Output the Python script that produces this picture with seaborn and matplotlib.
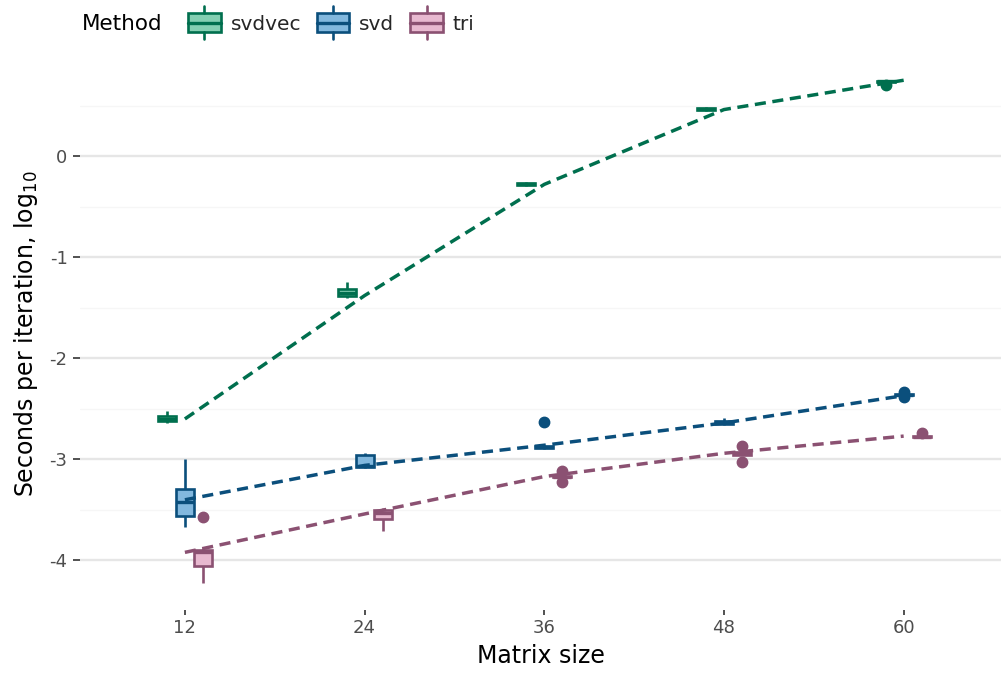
import numpy as np
import pandas as pd
import matplotlib
matplotlib.use("Agg")
import matplotlib.pyplot as plt
import seaborn as sns
from matplotlib.legend_handler import HandlerBase
from matplotlib.patches import Rectangle
from matplotlib.lines import Line2D
import matplotlib.colors as mcolors

# ---------------- data ----------------
methods = ["svdvec", "svd", "tri"]
sizes = [12, 24, 36, 48, 60]

# observed log10 seconds per iteration, per matrix size
svdvec_obs = {
    12: [-2.64, -2.63, -2.61, -2.60, -2.58, -2.565, -2.52],
    24: [-1.40, -1.39, -1.37, -1.35, -1.32, -1.31, -1.25],
    36: [-0.30, -0.29, -0.28, -0.27, -0.26, -0.255],
    48: [0.445, 0.45, 0.465, 0.47, 0.48, 0.485],
    60: [0.70, 0.735, 0.737, 0.742, 0.748, 0.75],
}
svd_obs = {
    12: [-3.67, -3.57, -3.55, -3.42, -3.30, -3.28, -3.0],
    24: [-3.09, -3.08, -3.075, -3.07, -2.97, -2.95, -2.94],
    36: [-2.90, -2.89, -2.885, -2.88, -2.875, -2.87, -2.63],
    48: [-2.66, -2.655, -2.64, -2.635, -2.625, -2.62, -2.59],
    60: [-2.385, -2.365, -2.362, -2.358, -2.354, -2.33],
}
tri_obs = {
    12: [-4.22, -4.08, -4.05, -3.93, -3.91, -3.90, -3.88, -3.57],
    24: [-3.71, -3.60, -3.58, -3.53, -3.51, -3.49, -3.48],
    36: [-3.22, -3.18, -3.175, -3.165, -3.16, -3.12],
    48: [-3.03, -2.955, -2.95, -2.94, -2.93, -2.925, -2.87],
    60: [-2.79, -2.785, -2.78, -2.775, -2.77, -2.74],
}

# trend values drawn as dashed lines
svdvec_line = [-2.60, -1.38, -0.28, 0.46, 0.75]
svd_line = [-3.40, -3.06, -2.86, -2.64, -2.37]
tri_line = [-3.92, -3.54, -3.17, -2.94, -2.77]

y_ticks = [0, -1, -2, -3, -4]
x_ticks = [12, 24, 36, 48, 60]

# ---------------- styling ----------------
line_colors = {"svdvec": "#006F4E", "svd": "#0B4F7C", "tri": "#8B5172"}
fill_colors = {"svdvec": "#84CFB2", "svd": "#82B8DE", "tri": "#E8B9D0"}

rows = []
for m, obs in zip(methods, [svdvec_obs, svd_obs, tri_obs]):
    for s in sizes:
        for v in obs[s]:
            rows.append({"Method": m, "size": s, "value": v})
df = pd.DataFrame(rows)

line_rows = []
for m, vals in zip(methods, [svdvec_line, svd_line, tri_line]):
    for s, v in zip(sizes, vals):
        line_rows.append({"Method": m, "size": s, "value": v})
ldf = pd.DataFrame(line_rows)

sns.set_theme(style="white")
plt.rcParams["font.family"] = ["DejaVu Sans"]

fig = plt.figure(figsize=(10.01, 6.73), dpi=100)
ax = fig.add_axes([0.080, 1 - 610 / 673, 0.92, (610 - 58) / 673])

sns.boxplot(
    data=df, x="size", y="value", hue="Method", hue_order=methods,
    palette=fill_colors, native_scale=True, width=0.3, saturation=1,
    showcaps=False, linewidth=1.9, legend=False, ax=ax,
    flierprops=dict(marker="o", markersize=7.5),
    medianprops=dict(linewidth=2.4),
    zorder=3,
)

# recolour outlines per method
fill_to_method = {mcolors.to_hex(c): m for m, c in fill_colors.items()}
for cont in ax.containers:
    try:
        boxes = cont.boxes
    except AttributeError:
        continue
    fc = mcolors.to_hex(boxes[0].get_facecolor())
    m = fill_to_method.get(fc)
    if m is None:
        continue
    lc = line_colors[m]
    for b in boxes:
        b.set_edgecolor(lc)
    for ln in list(cont.whiskers) + list(cont.medians):
        ln.set_color(lc)
    for ln in cont.fliers:
        ln.set_markerfacecolor(lc)
        ln.set_markeredgecolor(lc)
        ln.set_color(lc)

sns.lineplot(
    data=ldf, x="size", y="value", hue="Method", hue_order=methods,
    palette=line_colors, legend=False, ax=ax, linewidth=2.5, zorder=4,
)
for ln in ax.lines[-3:]:
    ln.set_linestyle((0, (3.2, 1.9)))

ax.set_xlim(5.0, 66.5)
ax.set_ylim(-4.49, 0.97)
ax.set_xticks(x_ticks)
ax.set_xticklabels([str(t) for t in x_ticks])
ax.set_yticks(y_ticks)
ax.set_yticklabels([str(t) for t in y_ticks])
ax.set_yticks([0.5, -0.5, -1.5, -2.5, -3.5], minor=True)

ax.grid(axis="y", which="major", color="#E6E6E6", linewidth=1.7, zorder=0)
ax.grid(axis="y", which="minor", color="#F6F6F6", linewidth=0.9, zorder=0)
ax.grid(axis="x", visible=False)
ax.set_axisbelow(True)
for sp in ax.spines.values():
    sp.set_visible(False)

ax.tick_params(axis="y", which="major", left=True, length=5, width=1.2,
               color="#333333", labelsize=13, labelcolor="#4D4D4D", pad=4)
ax.tick_params(axis="y", which="minor", left=False)
ax.tick_params(axis="x", which="major", bottom=True, length=3.5, width=1.2,
               color="#333333", labelsize=13, labelcolor="#4D4D4D", pad=3)

ax.set_xlabel("Matrix size", fontsize=17, color="black", labelpad=5)
ax.set_ylabel("Seconds per iteration, log$_{10}$", fontsize=17, color="black", labelpad=7)


# ---------------- legend ----------------
class BoxHandler(HandlerBase):
    def __init__(self, fc, ec):
        super().__init__()
        self.fc = fc
        self.ec = ec

    def create_artists(self, legend, orig_handle, xdescent, ydescent,
                       width, height, fontsize, trans):
        cx = width / 2 - xdescent
        bw = width * 0.95
        bh = height * 1.05
        by = -ydescent + (height - bh) / 2
        rect = Rectangle((cx - bw / 2, by), bw, bh, facecolor=self.fc,
                         edgecolor=self.ec, linewidth=1.9, transform=trans)
        med = Line2D([cx - bw / 2, cx + bw / 2], [by + bh / 2, by + bh / 2],
                     color=self.ec, linewidth=2.4, transform=trans)
        wt = Line2D([cx, cx], [by + bh, by + bh + height * 0.4],
                    color=self.ec, linewidth=1.9, transform=trans)
        wb = Line2D([cx, cx], [by, by - height * 0.4],
                    color=self.ec, linewidth=1.9, transform=trans)
        return [rect, wt, wb, med]


handles = [Rectangle((0, 0), 1, 1) for _ in methods]
handler_map = {h: BoxHandler(fill_colors[m], line_colors[m]) for h, m in zip(handles, methods)}
fig.text(0.082, 0.965, "Method", fontsize=15.5, va="center", ha="left", color="black")
fig.legend(handles, methods, handler_map=handler_map, ncol=3, loc="center left",
           bbox_to_anchor=(0.187, 0.965), frameon=False, fontsize=14.5,
           handlelength=1.7, handleheight=1.0, handletextpad=0.45,
           columnspacing=0.75, borderaxespad=0, borderpad=0)

fig.savefig("out.png", dpi=100)
